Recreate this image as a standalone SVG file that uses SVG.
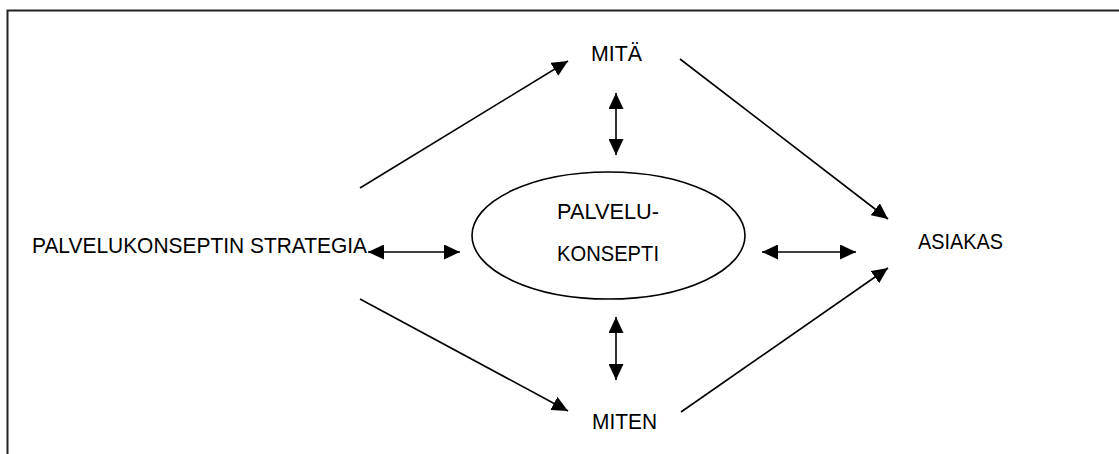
<svg xmlns="http://www.w3.org/2000/svg" width="1119" height="454" viewBox="0 0 1119 454">
<style>
.t{font-family:"Liberation Sans",Arial,sans-serif;font-size:22.5px;fill:#000}
.c{stroke:#000;stroke-width:1.6;fill:none;marker-end:url(#ah)}
.d{marker-start:url(#ah)}
</style>
<defs>
<marker id="ah" markerUnits="userSpaceOnUse" markerWidth="16" markerHeight="15" refX="16" refY="7.5" orient="auto-start-reverse" viewBox="0 0 16 15">
<path d="M0,0 L16,7.5 L0,15 z" fill="#000"/>
</marker>
</defs>
<rect x="7.5" y="10.5" width="1200" height="500" fill="#fff" stroke="#222" stroke-width="2"/>
<g id="strategia"><text class="t" x="32" y="253" textLength="335" lengthAdjust="spacingAndGlyphs">PALVELUKONSEPTIN STRATEGIA</text></g>
<g id="mita"><text class="t" x="591" y="61" textLength="51" lengthAdjust="spacingAndGlyphs">MITÄ</text></g>
<g id="miten"><text class="t" x="592" y="429" textLength="65" lengthAdjust="spacingAndGlyphs">MITEN</text></g>
<g id="asiakas"><text class="t" x="918" y="249" textLength="85" lengthAdjust="spacingAndGlyphs">ASIAKAS</text></g>
<g id="palvelukonsepti">
<ellipse cx="608.5" cy="235.5" rx="136.5" ry="63.5" fill="none" stroke="#000" stroke-width="1.6"/>
<text class="t" x="557" y="219" textLength="102" lengthAdjust="spacingAndGlyphs">PALVELU-</text>
<text class="t" x="557" y="261" textLength="102" lengthAdjust="spacingAndGlyphs">KONSEPTI</text>
</g>
<g id="connectors">
<line class="c" x1="360" y1="188" x2="568" y2="61"/>
<line class="c" x1="360" y1="299" x2="568" y2="411"/>
<line class="c" x1="680" y1="59" x2="888" y2="219"/>
<line class="c" x1="681" y1="412" x2="888" y2="268"/>
<line class="c d" x1="368" y1="252" x2="460" y2="252"/>
<line class="c d" x1="762" y1="252" x2="856" y2="252"/>
<line class="c d" x1="616" y1="93" x2="616" y2="155"/>
<line class="c d" x1="616" y1="317" x2="616" y2="380"/>
</g>
</svg>
